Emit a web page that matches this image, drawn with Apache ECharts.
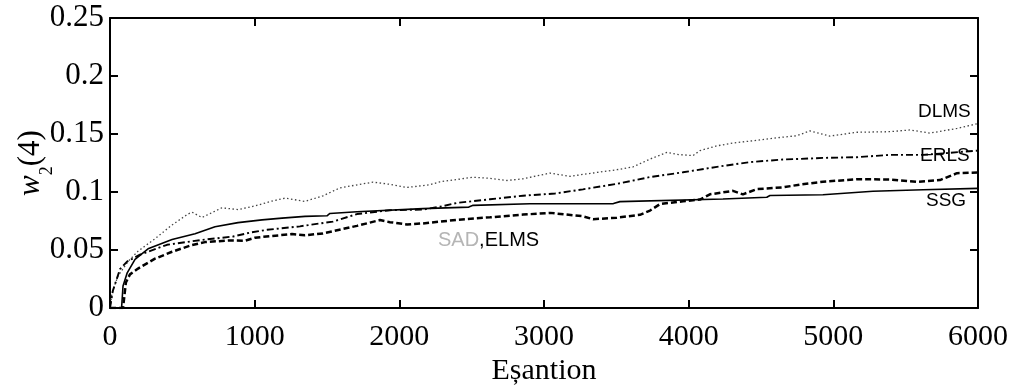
<!DOCTYPE html>
<html>
<head>
<meta charset="utf-8">
<script src="https://cdn.jsdelivr.net/npm/echarts@6/dist/echarts.min.js"></script>
<style>html,body{margin:0;padding:0;background:#fff}#c{width:1030px;height:387px}</style>
</head>
<body>
<div id="c"></div>
<script>
// ---- data ----
var yTickLabels = ['0', '0.05', '0.1', '0.15', '0.2', '0.25'];
var xTickLabels = ['0', '1000', '2000', '3000', '4000', '5000', '6000'];

var dlmsX = [0, 14, 55, 124, 194, 311, 429, 539, 567, 636, 774, 885, 1002, 1120, 1210, 1348, 1472, 1590, 1818, 1935, 2053, 2212, 2281, 2509, 2627, 2744, 2855, 3041, 3180, 3269, 3504, 3615, 3733, 3850, 3919, 4030, 4078, 4196, 4306, 4472, 4631, 4748, 4838, 4977, 5163, 5391, 5530, 5668, 5855, 6000];
var dlmsY = [0, 0.013, 0.0275, 0.040, 0.049, 0.0597, 0.0716, 0.081, 0.0826, 0.078, 0.0864, 0.0848, 0.088, 0.0922, 0.0947, 0.0919, 0.0967, 0.1036, 0.1085, 0.1066, 0.1039, 0.1063, 0.1088, 0.1127, 0.1118, 0.1099, 0.1114, 0.1163, 0.1135, 0.1152, 0.1192, 0.1216, 0.1284, 0.1342, 0.1324, 0.1314, 0.1357, 0.1398, 0.1422, 0.1446, 0.147, 0.1485, 0.1527, 0.1482, 0.1515, 0.152, 0.1535, 0.1508, 0.1548, 0.159];

var erlsX = [0, 20, 69, 118, 207, 394, 622, 850, 968, 1085, 1313, 1541, 1707, 1935, 2163, 2281, 2398, 2627, 2855, 3076, 3269, 3504, 3733, 3961, 4196, 4424, 4652, 4769, 4928, 5163, 5391, 5620, 6000];
var erlsY = [0, 0.015, 0.0335, 0.040, 0.046, 0.0545, 0.0585, 0.0616, 0.065, 0.0674, 0.0704, 0.0745, 0.081, 0.0843, 0.0849, 0.0873, 0.0906, 0.0937, 0.0968, 0.0987, 0.1023, 0.107, 0.1129, 0.117, 0.1217, 0.1258, 0.128, 0.1285, 0.1294, 0.130, 0.132, 0.132, 0.1357];

var ssgX = [0, 80, 90, 118, 173, 263, 429, 588, 726, 885, 1051, 1189, 1348, 1500, 1520, 1707, 2163, 2480, 2510, 2903, 3480, 3525, 4237, 4540, 4562, 4928, 5274, 5620, 6000];
var ssgY = [0, 0, 0.019, 0.030, 0.042, 0.051, 0.059, 0.064, 0.070, 0.0736, 0.076, 0.0775, 0.079, 0.0795, 0.0815, 0.083, 0.0857, 0.087, 0.0885, 0.0899, 0.090, 0.0917, 0.094, 0.0955, 0.097, 0.0976, 0.1006, 0.1019, 0.1031];

var sadX = [0, 90, 110, 138, 194, 311, 429, 567, 657, 816, 933, 1002, 1120, 1258, 1348, 1472, 1707, 1866, 1935, 2053, 2163, 2398, 2627, 2855, 3041, 3269, 3339, 3504, 3663, 3733, 3802, 3961, 4078, 4147, 4306, 4375, 4472, 4652, 4769, 4928, 5163, 5391, 5578, 5737, 5855, 6000];
var sadY = [0, 0, 0.022, 0.029, 0.034, 0.0425, 0.0485, 0.0543, 0.0568, 0.0582, 0.058, 0.0606, 0.0621, 0.0637, 0.0627, 0.0643, 0.0708, 0.0758, 0.074, 0.072, 0.0729, 0.076, 0.0782, 0.0805, 0.082, 0.0791, 0.0765, 0.0779, 0.0803, 0.084, 0.0896, 0.092, 0.0935, 0.098, 0.101, 0.098, 0.1025, 0.104, 0.1064, 0.1088, 0.111, 0.1108, 0.1088, 0.1103, 0.1162, 0.1168];

function pairs(xs, ys) { return xs.map(function (x, i) { return [x, ys[i]]; }); }

var serif = '"Liberation Serif", "Times New Roman", serif';
var sans = '"Liberation Sans", Arial, sans-serif';

var chart = echarts.init(document.getElementById('c'), null, {renderer: 'canvas'});
function axisLine() { return {show: true, onZero: false, lineStyle: {color: '#000', width: 2}}; }
function tickIn() { return {show: true, inside: true, length: 8, lineStyle: {color: '#000', width: 2}}; }

chart.setOption({
  animation: false,
  backgroundColor: '#fff',
  grid: {left: 110, right: 52, top: 18, bottom: 79, containLabel: false, outerBoundsMode: 'none'},
  xAxis: [{
    type: 'value', min: 0, max: 6000, interval: 1000, position: 'bottom',
    axisLine: axisLine(), axisTick: tickIn(), splitLine: {show: false},
    axisLabel: {color: '#000', fontFamily: serif, fontSize: 30, margin: 14,
      formatter: function (v) { return xTickLabels[Math.round(v / 1000)]; }},
    name: 'Eșantion', nameLocation: 'middle', nameGap: 48, nameMoveOverlap: false,
    nameTextStyle: {color: '#000', fontFamily: serif, fontSize: 30}
  }, {
    type: 'value', min: 0, max: 6000, interval: 1000, position: 'top',
    axisLine: axisLine(), axisTick: tickIn(), axisLabel: {show: false}, splitLine: {show: false}
  }],
  yAxis: [{
    type: 'value', min: 0, max: 0.25, interval: 0.05, position: 'left',
    axisLine: axisLine(), axisTick: tickIn(), splitLine: {show: false},
    axisLabel: {color: '#000', fontFamily: serif, fontSize: 31, margin: 6,
      formatter: function (v) { return yTickLabels[Math.round(v / 0.05)]; }},
    name: '{w|w}{s|2}{n|(4)}', nameLocation: 'middle', nameGap: 62, nameRotate: 90,
    nameMoveOverlap: false,
    nameTextStyle: {
      color: '#000', fontFamily: serif, fontSize: 30,
      rich: {
        w: {fontFamily: serif, fontSize: 31, fontStyle: 'italic', color: '#000', lineHeight: 34},
        s: {fontFamily: serif, fontSize: 18, color: '#000', verticalAlign: 'bottom', lineHeight: 34, padding: [0, 0, -8, 0]},
        n: {fontFamily: serif, fontSize: 31, color: '#000', lineHeight: 34}
      }
    }
  }, {
    type: 'value', min: 0, max: 0.25, interval: 0.05, position: 'right',
    axisLine: axisLine(), axisTick: tickIn(), axisLabel: {show: false}, splitLine: {show: false}
  }],
  series: [{
    name: 'DLMS', type: 'line', data: pairs(dlmsX, dlmsY), showSymbol: false, smooth: false,
    lineStyle: {color: '#444', width: 1.3, type: [1.5, 2.5]}
  }, {
    name: 'ERLS', type: 'line', data: pairs(erlsX, erlsY), showSymbol: false,
    lineStyle: {color: '#000', width: 1.9, type: [7, 3, 2, 3]}
  }, {
    name: 'SSG', type: 'line', data: pairs(ssgX, ssgY), showSymbol: false,
    lineStyle: {color: '#000', width: 1.6, type: 'solid'}
  }, {
    name: 'SAD,ELMS', type: 'line', data: pairs(sadX, sadY), showSymbol: false,
    lineStyle: {color: '#000', width: 2.5, type: [6, 3]}
  }],
  graphic: [
    {type: 'text', left: 918, top: 102, style: {text: 'DLMS', font: '19px ' + sans, fill: '#000'}},
    {type: 'text', left: 920, top: 146, style: {text: 'ERLS', font: '19px ' + sans, fill: '#000'}},
    {type: 'text', left: 926, top: 191, style: {text: 'SSG', font: '19px ' + sans, fill: '#000'}},
    {type: 'text', left: 438, top: 230, style: {
      text: '{g|SAD}{b|,ELMS}', font: '20px ' + sans,
      rich: {g: {fill: '#b5b5b5', font: '20px ' + sans}, b: {fill: '#000', font: '20px ' + sans}}
    }}
  ]
});
</script>
</body>
</html>
